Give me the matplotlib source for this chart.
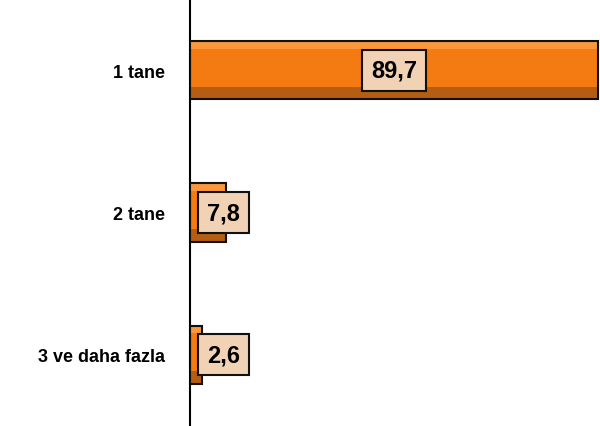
import matplotlib
matplotlib.use('Agg')
import matplotlib.pyplot as plt

# veriler
kategoriler = ['1 tane', '2 tane', '3 ve daha fazla']
degerler = [89.7, 7.8, 2.6]
etiketler = ['89,7', '7,8', '2,6']

fig = plt.figure(figsize=(6, 4.27), dpi=100)
ax = fig.add_axes([0.317, 0.0, 0.683, 1.0])

y = list(range(len(kategoriler)))
h = 0.41

# ana cubuklar
ax.barh(y, degerler, height=h, color='#f47a12', linewidth=0, zorder=2)
# bevel efekti: ust acik, alt koyu seritler
ax.barh([v - h / 2 + 0.03 for v in y], degerler, height=0.05,
        color='#fb9c40', linewidth=0, zorder=3, alpha=0.9)
ax.barh([v + h / 2 - 0.045 for v in y], degerler, height=0.09,
        color='#9a5214', linewidth=0, zorder=3, alpha=0.7)
ax.barh(y, degerler, height=h, fill=False, edgecolor='#111111',
        linewidth=1.5, zorder=4)

ax.set_xlim(0, 90.1)
ax.set_ylim(2.5, -0.5)

# veri etiketleri
for i, (d, e) in enumerate(zip(degerler, etiketler)):
    xpos = max(d / 2, 7.4)
    ax.text(xpos, i, e, ha='center', va='center', fontsize=17,
            fontweight='bold', family='Liberation Sans', zorder=5,
            bbox=dict(boxstyle='square,pad=0.38', facecolor='#f2d2b4',
                      edgecolor='#111111', linewidth=1.5))

ax.set_yticks(y)
ax.set_yticklabels(kategoriler, fontsize=13, fontweight='bold',
                   family='Liberation Sans')
ax.tick_params(axis='y', length=0, pad=18)
ax.set_xticks([])
for s in ['top', 'right', 'bottom']:
    ax.spines[s].set_visible(False)
ax.spines['left'].set_linewidth(1.5)
ax.spines['left'].set_bounds(2.49, -0.5)

fig.savefig('out.png', dpi=100)
